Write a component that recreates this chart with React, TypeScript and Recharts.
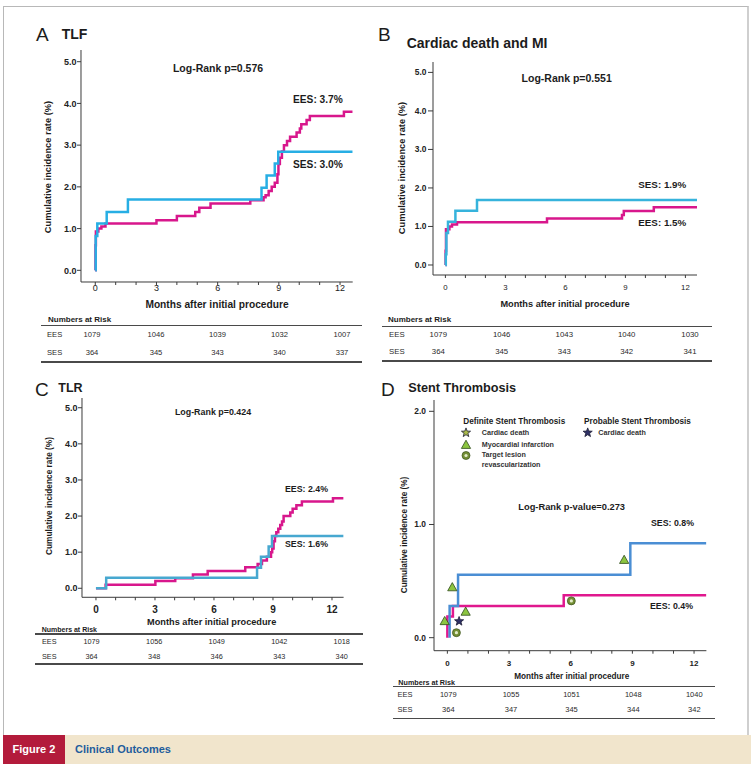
import React from 'react';
import { ComposedChart, Line, Scatter, XAxis, YAxis } from 'recharts';

type Pt = [number, number];

// cumulative incidence (%) by month, step points
const tlfEES: Pt[] = [[0, 0], [0.01, 0.6], [0.03, 0.93], [0.15, 1.0], [0.3, 1.05], [0.5, 1.12], [3.0, 1.2], [4.0, 1.3], [4.9, 1.4], [5.1, 1.5], [5.65, 1.6], [7.6, 1.68], [8.25, 1.75], [8.35, 1.8], [8.5, 1.9], [8.65, 2.0], [8.8, 2.1], [8.93, 2.3], [8.98, 2.55], [9.05, 2.7], [9.15, 2.85], [9.25, 3.0], [9.4, 3.1], [9.55, 3.2], [9.87, 3.3], [10.03, 3.4], [10.1, 3.5], [10.36, 3.6], [10.52, 3.7], [12.19, 3.8], [12.62, 3.8]];
const tlfSES: Pt[] = [[0, 0], [0.02, 0.82], [0.1, 1.12], [0.56, 1.4], [1.6, 1.7], [8.15, 1.98], [8.4, 2.27], [8.8, 2.56], [8.97, 2.84], [12.62, 2.84]];

const cdmiEES: Pt[] = [[0, 0], [0.01, 0.37], [0.03, 0.93], [0.2, 1.0], [0.33, 1.05], [0.58, 1.11], [5.08, 1.21], [8.83, 1.3], [8.92, 1.4], [10.42, 1.5], [12.58, 1.5]];
const cdmiSES: Pt[] = [[0, 0], [0.02, 0.28], [0.05, 0.83], [0.13, 1.12], [0.5, 1.41], [1.58, 1.69], [12.58, 1.69]];

const tlrEES: Pt[] = [[0, 0], [0.49, 0.1], [3.02, 0.2], [4.03, 0.28], [4.93, 0.38], [5.68, 0.48], [7.59, 0.58], [8.22, 0.67], [8.44, 0.77], [8.69, 0.87], [8.9, 1.0], [8.96, 1.1], [9.03, 1.3], [9.1, 1.45], [9.17, 1.55], [9.27, 1.65], [9.37, 1.75], [9.46, 1.85], [9.54, 2.0], [9.88, 2.1], [10.0, 2.2], [10.19, 2.3], [10.47, 2.4], [12.05, 2.49], [12.59, 2.49]];
const tlrSES: Pt[] = [[0, 0], [0.52, 0.29], [8.19, 0.57], [8.39, 0.87], [8.78, 1.16], [8.95, 1.45], [12.59, 1.45]];

const stEES: Pt[] = [[0, 0], [0, 0.186], [0.27, 0.28], [5.66, 0.375], [12.6, 0.375]];
const stSES: Pt[] = [[0.11, 0], [0.11, 0.28], [0.52, 0.555], [8.9, 0.835], [12.6, 0.835]];

// individual stent thrombosis events
const stMI: Pt[] = [[-0.13, 0.147], [0.24, 0.446], [0.89, 0.23], [8.6, 0.688]];
const stTLR: Pt[] = [[0.44, 0.044], [6.03, 0.325]];
const stProbableDeath: Pt[] = [[0.57, 0.145]];

const monthTicks = [0, 1, 2, 3, 4, 5, 6, 7, 8, 9, 10, 11, 12];
const rateTicks = [0, 1, 2, 3, 4, 5];
const stRateTicks = [0, 1, 2];

const tlfRiskEES = [1079, 1046, 1039, 1032, 1007];
const tlfRiskSES = [364, 345, 343, 340, 337];
const cdmiRiskEES = [1079, 1046, 1043, 1040, 1030];
const cdmiRiskSES = [364, 345, 343, 342, 341];
const tlrRiskEES = [1079, 1056, 1049, 1042, 1018];
const tlrRiskSES = [364, 348, 346, 343, 340];
const stRiskEES = [1079, 1055, 1051, 1048, 1040];
const stRiskSES = [364, 347, 345, 344, 342];

const FONT = '"Liberation Sans", Arial, Helvetica, sans-serif';
const MAGENTA = '#d8178c';
const AXIS = '#3a3a3a';

const rows = (pts: Pt[]) => pts.map(([m, v]) => ({ m, v }));

const Txt = ({ x, y, size, bold = true, anchor = 'start', color = '#1c1c1c', rotate = false, children }: any) => {
  const tx = anchor === 'middle' ? '-50%' : anchor === 'end' ? '-100%' : '0';
  return (
    <div
      style={{
        position: 'absolute', left: x, top: y, fontFamily: FONT, fontSize: size,
        fontWeight: bold ? 700 : 400, color, lineHeight: 1, whiteSpace: 'nowrap',
        transform: `translate(${rotate ? '-50%' : tx}, -50%)${rotate ? ' rotate(-90deg)' : ''}`,
      }}
    >
      {children}
    </div>
  );
};

const starPoints = (cx: number, cy: number, r: number) => {
  const out: string[] = [];
  for (let i = 0; i < 10; i++) {
    const rr = i % 2 === 0 ? r : r * 0.42;
    const a = -Math.PI / 2 + (i * Math.PI) / 5;
    out.push(`${cx + rr * Math.cos(a)},${cy + rr * Math.sin(a)}`);
  }
  return out.join(' ');
};

const Tri = ({ cx, cy }: any) => (
  <polygon points={`${cx},${cy - 4.6} ${cx - 4.6},${cy + 3.6} ${cx + 4.6},${cy + 3.6}`} fill="#8cc540" stroke="#2f4a1c" strokeWidth={0.8} />
);
const Donut = ({ cx, cy }: any) => (
  <g>
    <circle cx={cx} cy={cy} r={4} fill="#748f35" stroke="#3b501c" strokeWidth={0.7} />
    <circle cx={cx} cy={cy} r={1.6} fill="#e3ebc8" />
  </g>
);
const Star = ({ cx, cy, fill }: any) => (
  <polygon points={starPoints(cx, cy, 4.8)} fill={fill} stroke="#1e1e36" strokeWidth={0.8} />
);

interface Curve { data: Pt[]; color: string }

const KMPanel = ({ left, top, width, height, xDomain, yDomain, yTicks, curves, yTick, xTick, children }: any) => {
  const yW = 34, mTop = 4, mRight = 4, xH = 24;
  return (
    <div style={{ position: 'absolute', left: left - yW, top: top - mTop }}>
      <ComposedChart
        width={yW + width + mRight}
        height={mTop + height + xH}
        margin={{ top: mTop, right: mRight, left: 0, bottom: 0 }}
      >
        <XAxis
          type="number" dataKey="m" domain={xDomain} allowDataOverflow ticks={monthTicks} interval={0}
          tickFormatter={(v: number) => (v % 3 === 0 ? String(v) : '')}
          height={xH} stroke={AXIS} tickSize={3} tickMargin={xTick.margin}
          tick={{ fontSize: xTick.size, fontWeight: xTick.bold ? 700 : 400, fill: '#222', fontFamily: FONT }}
        />
        <YAxis
          type="number" dataKey="v" domain={yDomain} allowDataOverflow ticks={yTicks} interval={0}
          tickFormatter={(v: number) => v.toFixed(1)}
          width={yW} stroke={AXIS} tickSize={yTick.tick} tickMargin={yTick.margin}
          tick={{ fontSize: yTick.size, fontWeight: 700, fill: '#222', fontFamily: FONT }}
        />
        {curves.map((c: Curve, i: number) => (
          <Line
            key={i} data={rows(c.data)} dataKey="v" type="stepAfter" stroke={c.color}
            strokeWidth={2.5} dot={false} activeDot={false} isAnimationActive={false}
          />
        ))}
        {children}
      </ComposedChart>
    </div>
  );
};

const RiskTable = ({ head, x1, x2, y1, yE, yS, y2, labelX, cols, ees, ses, size, headSize }: any) => (
  <>
    <Txt x={head[0]} y={head[1]} size={headSize}>Numbers at Risk</Txt>
    <div style={{ position: 'absolute', left: x1, top: y1 - 0.8, width: x2 - x1, height: 1.6, background: '#4a4a4a' }} />
    <div style={{ position: 'absolute', left: x1, top: y2 - 0.8, width: x2 - x1, height: 1.6, background: '#4a4a4a' }} />
    <Txt x={labelX} y={yE} size={size} bold={false} color="#2a2a2a">EES</Txt>
    <Txt x={labelX} y={yS} size={size} bold={false} color="#2a2a2a">SES</Txt>
    {ees.map((n: number, i: number) => (
      <Txt key={'e' + i} x={cols[i]} y={yE} size={size} bold={false} anchor="middle" color="#2a2a2a">{n}</Txt>
    ))}
    {ses.map((n: number, i: number) => (
      <Txt key={'s' + i} x={cols[i]} y={yS} size={size} bold={false} anchor="middle" color="#2a2a2a">{n}</Txt>
    ))}
  </>
);

export default function App() {
  return (
    <div style={{ position: 'absolute', left: 0, top: 0, width: 751, height: 765, background: '#fff', overflow: 'hidden' }}>
      {/* frame */}
      <div style={{ position: 'absolute', left: 3, top: 6, width: 743, height: 729, borderTop: '1px solid #b8b8b8', borderLeft: '1px solid #b8b8b8', borderRight: '2px solid #cfcfcf' }} />

      {/* A: TLF */}
      <Txt x={36} y={34} size={19} bold={false}>A</Txt>
      <Txt x={61.7} y={33.5} size={14}>TLF</Txt>
      <KMPanel
        left={81} top={50} width={271.7} height={232}
        xDomain={[-0.7, 12.62]} yDomain={[-0.28, 5.28]} yTicks={rateTicks}
        curves={[{ data: tlfEES, color: MAGENTA }, { data: tlfSES, color: '#27aee4' }]}
        yTick={{ size: 9, tick: 4, margin: 0.5 }} xTick={{ size: 9, bold: false, margin: -0.5 }}
      />
      <Txt x={49} y={166.7} size={9.3} rotate>Cumulative incidence rate (%)</Txt>
      <Txt x={217} y={304.7} size={10.2} anchor="middle">Months after initial procedure</Txt>
      <Txt x={218} y={68.3} size={10.5} anchor="middle">Log-Rank p=0.576</Txt>
      <Txt x={293} y={100} size={10.2}>EES: 3.7%</Txt>
      <Txt x={293} y={165} size={10.2}>SES: 3.0%</Txt>
      <RiskTable
        head={[48, 320]} x1={41} x2={362} y1={325.5} yE={335} yS={353.3} y2={362} labelX={47}
        cols={[92, 156, 217.5, 279.5, 342]} ees={tlfRiskEES} ses={tlfRiskSES} size={7.6} headSize={8}
      />

      {/* B: Cardiac death and MI */}
      <Txt x={378} y={34.2} size={19} bold={false}>B</Txt>
      <Txt x={406.7} y={43.3} size={14}>Cardiac death and MI</Txt>
      <KMPanel
        left={432.7} top={62} width={264} height={213}
        xDomain={[-0.62, 12.58]} yDomain={[-0.26, 5.27]} yTicks={rateTicks}
        curves={[{ data: cdmiEES, color: MAGENTA }, { data: cdmiSES, color: '#36b3dc' }]}
        yTick={{ size: 8.4, tick: 5, margin: 1.5 }} xTick={{ size: 7.8, bold: false, margin: 6.5 }}
      />
      <Txt x={403} y={167.5} size={9.3} rotate>Cumulative incidence rate (%)</Txt>
      <Txt x={565} y={305} size={9.2} anchor="middle">Months after initial procedure</Txt>
      <Txt x={566.7} y={78.3} size={10.5} anchor="middle">Log-Rank p=0.551</Txt>
      <Txt x={638.3} y={185} size={9.8}>SES: 1.9%</Txt>
      <Txt x={638.3} y={223.3} size={9.8}>EES: 1.5%</Txt>
      <RiskTable
        head={[388, 320]} x1={381.7} x2={711.7} y1={326.5} yE={335} yS={351.7} y2={361} labelX={389}
        cols={[438.3, 501.7, 564.3, 626.7, 690]} ees={cdmiRiskEES} ses={cdmiRiskSES} size={7.8} headSize={8}
      />

      {/* C: TLR */}
      <Txt x={35} y={389} size={19} bold={false}>C</Txt>
      <Txt x={58.3} y={388} size={12.5}>TLR</Txt>
      <KMPanel
        left={81.7} top={398} width={261.6} height={199.3}
        xDomain={[-0.71, 12.59]} yDomain={[-0.25, 5.27]} yTicks={rateTicks}
        curves={[{ data: tlrEES, color: MAGENTA }, { data: tlrSES, color: '#47a8d0' }]}
        yTick={{ size: 9, tick: 4, margin: 0.5 }} xTick={{ size: 10, bold: true, margin: 6.1 }}
      />
      <Txt x={49.3} y={495.8} size={8.3} rotate>Cumulative incidence rate (%)</Txt>
      <Txt x={211.7} y={622.7} size={9.2} anchor="middle">Months after initial procedure</Txt>
      <Txt x={213} y={411.7} size={8.9} anchor="middle">Log-Rank p=0.424</Txt>
      <Txt x={285} y={489.3} size={8.8}>EES: 2.4%</Txt>
      <Txt x={285} y={544.3} size={8.8}>SES: 1.6%</Txt>
      <RiskTable
        head={[41.7, 629.3]} x1={35} x2={363} y1={634} yE={641.7} yS={656.7} y2={664} labelX={42}
        cols={[91.5, 154.2, 216.7, 279.3, 341.7]} ees={tlrRiskEES} ses={tlrRiskSES} size={7.3} headSize={7}
      />

      {/* D: Stent Thrombosis */}
      <Txt x={381} y={388.5} size={19} bold={false}>D</Txt>
      <Txt x={408.3} y={388.3} size={12.7}>Stent Thrombosis</Txt>
      <KMPanel
        left={434.3} top={400} width={272.4} height={250.7}
        xDomain={[-0.65, 12.6]} yDomain={[-0.115, 2.1]} yTicks={stRateTicks}
        curves={[{ data: stEES, color: '#e0188e' }, { data: stSES, color: '#4a8ed4' }]}
        yTick={{ size: 8.4, tick: 5, margin: 3 }} xTick={{ size: 8, bold: true, margin: 6.7 }}
      >
        <Scatter data={rows(stMI)} dataKey="v" isAnimationActive={false} shape={(p: any) => <Tri cx={p.cx} cy={p.cy} />} />
        <Scatter data={rows(stTLR)} dataKey="v" isAnimationActive={false} shape={(p: any) => <Donut cx={p.cx} cy={p.cy} />} />
        <Scatter data={rows(stProbableDeath)} dataKey="v" isAnimationActive={false} shape={(p: any) => <Star cx={p.cx} cy={p.cy} fill="#2f3166" />} />
      </KMPanel>
      <Txt x={405} y={535} size={8.2} rotate>Cumulative incidence rate (%)</Txt>
      <Txt x={571.7} y={676.7} size={8.2} anchor="middle">Months after initial procedure</Txt>
      <Txt x={571.7} y={508.3} size={9.3} anchor="middle">Log-Rank p-value=0.273</Txt>
      <Txt x={651} y={523.3} size={8.8}>SES: 0.8%</Txt>
      <Txt x={650} y={605.7} size={8.8}>EES: 0.4%</Txt>

      {/* event legend */}
      <Txt x={463.3} y={421.7} size={8.2}>Definite Stent Thrombosis</Txt>
      <Txt x={584} y={421.7} size={8.2}>Probable Stent Thrombosis</Txt>
      <svg style={{ position: 'absolute', left: 0, top: 0 }} width={751} height={765} pointerEvents="none">
        <Star cx={466} cy={432.7} fill="#a9b94a" />
        <Tri cx={466} cy={444.8} />
        <Donut cx={466} cy={455.5} />
        <Star cx={587.7} cy={432.7} fill="#2f3166" />
      </svg>
      <Txt x={481.7} y={432.7} size={7.2} color="#333">Cardiac death</Txt>
      <Txt x={481.7} y={444.5} size={7.2} color="#333">Myocardial infarction</Txt>
      <Txt x={481.7} y={455.3} size={7.2} color="#333">Target lesion</Txt>
      <Txt x={481.7} y={464.8} size={7.2} color="#333">revascularization</Txt>
      <Txt x={598.3} y={432.7} size={7.2} color="#333">Cardiac death</Txt>

      <RiskTable
        head={[398.3, 683]} x1={392.7} x2={715} y1={686.7} yE={695} yS={710.3} y2={718.3} labelX={397.5}
        cols={[448.3, 511, 571.5, 633.3, 694.3]} ees={stRiskEES} ses={stRiskSES} size={7.5} headSize={7.2}
      />

      {/* caption band */}
      <div style={{ position: 'absolute', left: 3, top: 735, width: 748, height: 28.5, background: '#f1e5cc' }} />
      <div style={{ position: 'absolute', left: 3, top: 735, width: 62, height: 28.5, background: '#b31b3b' }} />
      <Txt x={12.5} y={749} size={11} color="#ffffff">Figure 2</Txt>
      <Txt x={75} y={749} size={11} color="#1f5d9c">Clinical Outcomes</Txt>
    </div>
  );
}
